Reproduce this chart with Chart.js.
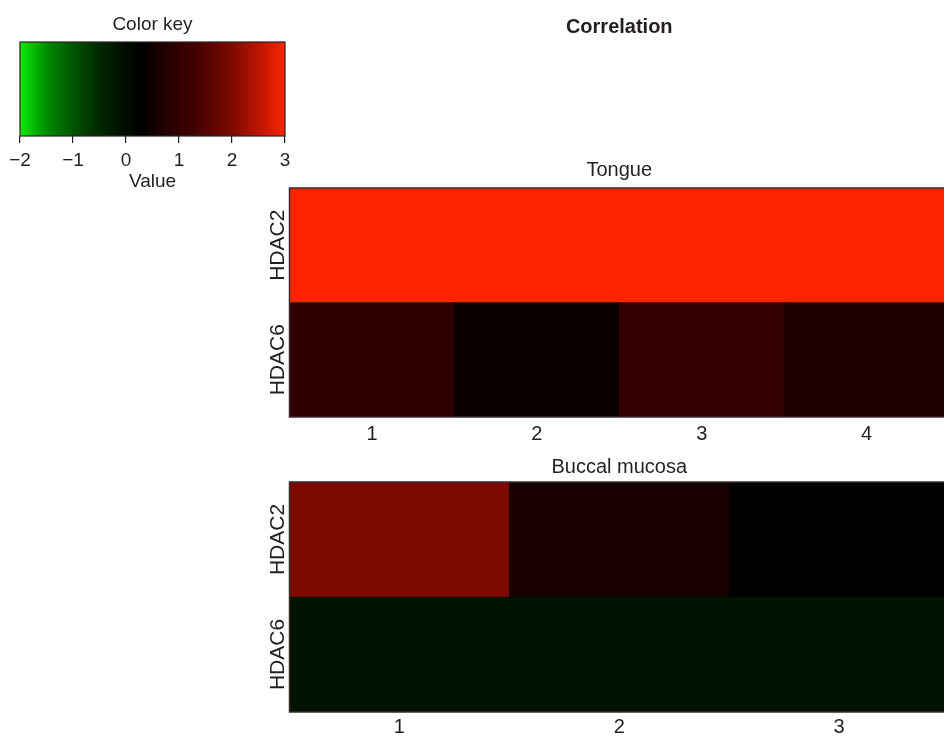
<!DOCTYPE html>
<html>
<head>
<meta charset="utf-8">
<script src="https://cdn.jsdelivr.net/npm/chart.js@4.4.0/dist/chart.umd.min.js"></script>
<style>
  html, body { margin: 0; padding: 0; background: #fff; overflow: hidden; width: 944px; height: 736px; }
  canvas { position: absolute; }
</style>
</head>
<body>
<canvas id="keyChart" width="310" height="200" style="left:0;top:0"></canvas>
<canvas id="tongueChart" width="720" height="450" style="left:240px;top:0"></canvas>
<canvas id="buccalChart" width="720" height="286" style="left:240px;top:450px"></canvas>
<script>
// DATA
const rows = ["HDAC6", "HDAC2"];          // bottom to top
const tongueCols = ["1", "2", "3", "4"];
const tongueHDAC2 = [3.0, 3.0, 3.0, 3.0];
const tongueHDAC6 = [0.94, 0.43, 1.02, 0.69];
const buccalCols = ["1", "2", "3"];
const buccalHDAC2 = [2.0, 0.61, 0.3];
const buccalHDAC6 = [-0.1, -0.1, -0.1];
const keyMin = -2, keyMax = 3;

// colour key stops (green - black - red)
const stopValues = [-2, -1.5, -1, -0.5, 0, 0.3, 0.75, 1.35, 2, 2.6, 3];
const stopColors = [[12, 235, 12], [0, 140, 0], [0, 85, 0], [0, 40, 0], [0, 12, 0], [0, 0, 0],
                    [35, 0, 0], [70, 2, 0], [125, 10, 0], [200, 22, 0], [255, 36, 0]];

function colorAt(v) {
    if (v <= stopValues[0]) return "rgb(" + stopColors[0].join(",") + ")";
    for (let i = 1; i < stopValues.length; i++) {
        if (v <= stopValues[i]) {
            const t = (v - stopValues[i - 1]) / (stopValues[i] - stopValues[i - 1]);
            const a = stopColors[i - 1], b = stopColors[i];
            const c = a.map((x, k) => Math.round(x + (b[k] - x) * t));
            return "rgb(" + c.join(",") + ")";
        }
    }
    return "rgb(" + stopColors[stopColors.length - 1].join(",") + ")";
}

const ink = "#231f20";
Chart.defaults.font.family = "'Liberation Sans', Arial, sans-serif";
Chart.defaults.color = ink;
Chart.defaults.animation = false;

// frame around the plot area
const frame = {
    id: "frame",
    afterDatasetsDraw(chart, args, opts) {
        const a = chart.chartArea, ctx = chart.ctx;
        ctx.save();
        ctx.strokeStyle = opts.color || ink;
        ctx.lineWidth = opts.width || 1.5;
        ctx.strokeRect(a.left, a.top, a.right - a.left, a.bottom - a.top);
        ctx.restore();
    }
};

// COLOR KEY
new Chart(document.getElementById("keyChart"), {
    type: "bar",
    data: {
        labels: [""],
        datasets: [{
            data: [[keyMin, keyMax]],
            backgroundColor: (c) => {
                const x = c.chart.scales.x;
                if (!x || !c.chart.chartArea) return "#000";
                const g = c.chart.ctx.createLinearGradient(x.getPixelForValue(keyMin), 0, x.getPixelForValue(keyMax), 0);
                stopValues.forEach((v, i) => g.addColorStop((v - keyMin) / (keyMax - keyMin), colorAt(v)));
                return g;
            },
            borderWidth: 0,
            barPercentage: 1,
            categoryPercentage: 1
        }]
    },
    options: {
        indexAxis: "y",
        responsive: false,
        layout: { padding: { left: 20, right: 25, top: 0, bottom: 0 } },
        plugins: {
            legend: { display: false },
            tooltip: { enabled: false },
            title: { display: true, text: "Color key", fullSize: false, font: { size: 19, weight: "normal" }, padding: { top: 13.6, bottom: 5.6 } },
            frame: { color: "#2a2222", width: 1.2 }
        },
        scales: {
            x: {
                type: "linear", min: keyMin, max: keyMax,
                afterFit: (s) => { s.height = 64; },
                ticks: { stepSize: 1, padding: 6, font: { size: 19 }, callback: (v) => String(v).replace("-", "\u2212") },
                grid: { display: true, drawOnChartArea: false, drawTicks: true, tickLength: 7, color: ink, lineWidth: 1.2 },
                border: { display: false },
                title: { display: true, text: "Value", font: { size: 19 }, padding: { top: 0, bottom: 7 } }
            },
            y: { display: false }
        }
    },
    plugins: [frame]
});

// HEATMAP helper
function heatmap(id, cols, top, bottom, opts) {
    return new Chart(document.getElementById(id), {
        type: "bar",
        data: {
            labels: cols,
            datasets: [
                { label: rows[0], data: bottom.map(() => 1), backgroundColor: bottom.map(colorAt) },
                { label: rows[1], data: top.map(() => 1), backgroundColor: top.map(colorAt) }
            ].map(d => Object.assign(d, { borderWidth: 0, barPercentage: 1, categoryPercentage: 1 }))
        },
        options: {
            responsive: false,
            layout: { padding: { left: 0, right: 11, top: 0, bottom: 0 } },
            plugins: {
                legend: { display: false },
                tooltip: { enabled: false },
                title: opts.title,
                subtitle: opts.subtitle || { display: false },
                frame: { color: "#3a2c2c", width: 1.5 }
            },
            scales: {
                x: {
                    stacked: true,
                    afterFit: (s) => { s.height = opts.xHeight; },
                    grid: { display: false, drawTicks: false },
                    border: { display: false },
                    ticks: { font: { size: 20 }, padding: opts.xPad, maxRotation: 0 }
                },
                y: {
                    stacked: true, min: 0, max: 2,
                    afterFit: (s) => { s.width = 49.5; },
                    afterBuildTicks: (s) => { s.ticks = [{ value: 0.5 }, { value: 1.5 }]; },
                    grid: { display: false, drawTicks: false },
                    border: { display: false },
                    ticks: {
                        font: { size: 21 }, minRotation: 90, maxRotation: 90,
                        crossAlign: "center", padding: -24,
                        callback: (v, i) => rows[i]
                    }
                }
            }
        },
        plugins: [frame]
    });
}

heatmap("tongueChart", tongueCols, tongueHDAC2, tongueHDAC6, {
    title: { display: true, text: "Correlation", fullSize: false, font: { size: 20, weight: "bold" }, padding: { top: 15, bottom: 119 } },
    subtitle: { display: true, text: "Tongue", fullSize: false, font: { size: 20 }, color: ink, padding: { top: 0, bottom: 6 } },
    xHeight: 33, xPad: 5
});

heatmap("buccalChart", buccalCols, buccalHDAC2, buccalHDAC6, {
    title: { display: true, text: "Buccal mucosa", fullSize: false, font: { size: 20, weight: "normal" }, padding: { top: 5, bottom: 3 } },
    xHeight: 24, xPad: 3
});
</script>
</body>
</html>
